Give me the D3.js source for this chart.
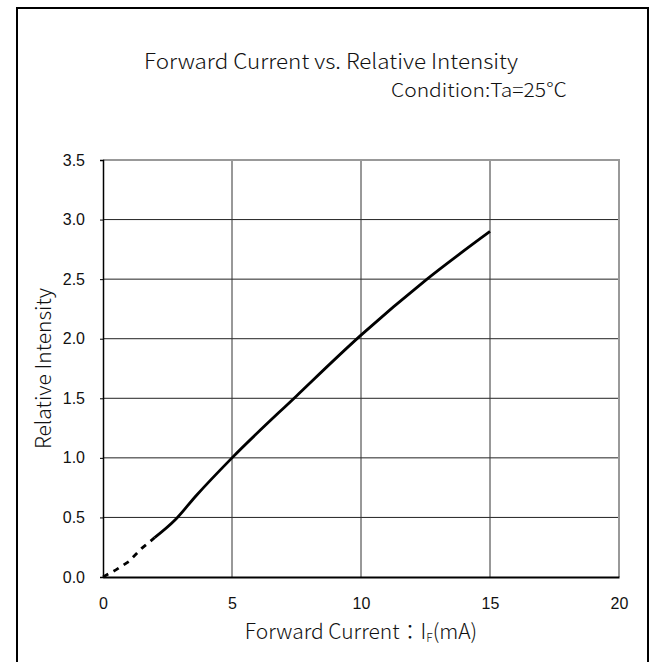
<!DOCTYPE html>
<html>
<head>
<meta charset="utf-8">
<script src="https://cdn.jsdelivr.net/npm/d3@7"></script>
<style>
  html, body { margin: 0; padding: 0; background: #fff; }
  svg { display: block; }
  .ttl { font-family: "Noto Sans CJK JP", "Noto Sans", sans-serif; font-weight: 300; fill: #111; }
  .tick text { font-family: "Liberation Sans Narrow", "Liberation Sans", Arial, sans-serif; font-size: 16px; fill: #111; }
</style>
</head>
<body>
<script>
// Forward current (mA) vs. relative luminous intensity at Ta = 25 °C
const lowCurrent   = [0, 0.5, 1.0, 1.5, 2.0];                 // dashed region
const lowIntensity = [0, 0.06, 0.13, 0.24, 0.33];
const current      = [2.0, 2.8, 3.6, 5.0, 7.5, 10.0, 12.5, 15.0]; // measured region
const intensity    = [0.33, 0.48, 0.68, 1.0, 1.52, 2.03, 2.49, 2.9];
const xTicks = [0, 5, 10, 15, 20];
const yTicks = [0, 0.5, 1.0, 1.5, 2.0, 2.5, 3.0, 3.5];

const W = 652, H = 662;
const svg = d3.select("body").append("svg").attr("width", W).attr("height", H);

// outer frame
svg.append("rect").attr("x", 17).attr("y", 8).attr("width", 631).attr("height", 700)
  .attr("fill", "none").attr("stroke", "#000").attr("stroke-width", 2);

const x = d3.scaleLinear().domain([0, 20]).range([103, 619]);
const y = d3.scaleLinear().domain([0, 3.5]).range([577, 160]);

// grid
const grid = svg.append("g");
grid.selectAll("line.h").data(yTicks.filter(v => v > 0 && v < 3.5)).join("line")
  .attr("x1", x(0)).attr("x2", x(20)).attr("y1", d => y(d)).attr("y2", d => y(d))
  .attr("stroke", "#222").attr("stroke-width", 1);
grid.selectAll("line.v").data(xTicks.filter(v => v > 0 && v < 20)).join("line")
  .attr("y1", y(0)).attr("y2", y(3.5)).attr("x1", d => x(d)).attr("x2", d => x(d))
  .attr("stroke", "#333").attr("stroke-width", 1);
// top and right border of plot
svg.append("path")
  .attr("d", `M${x(0)},${y(3.5)}H${x(20)}V${y(0)}`)
  .attr("fill", "none").attr("stroke", "#999").attr("stroke-width", 2);

// axes
const yAxis = svg.append("g").attr("transform", `translate(${x(0)},0)`)
  .call(d3.axisLeft(y).tickValues(yTicks).tickFormat(d3.format(".1f")).tickSize(3).tickPadding(15));
yAxis.select(".domain").attr("stroke", "#000").attr("stroke-width", 1.5);
yAxis.selectAll(".tick line").attr("stroke", "#000");

const xAxis = svg.append("g").attr("transform", `translate(0,${y(0)})`)
  .call(d3.axisBottom(x).tickValues(xTicks).tickSize(0).tickPadding(21));
xAxis.select(".domain").attr("stroke", "#000").attr("stroke-width", 2);

// curves
const lowLine = d3.line().x(d => x(d[0])).y(d => y(d[1]));
const mainLine = d3.line().x(d => x(d[0])).y(d => y(d[1])).curve(d3.curveMonotoneX);
svg.append("path").datum(d3.zip(lowCurrent, lowIntensity))
  .attr("d", lowLine).attr("fill", "none").attr("stroke", "#000")
  .attr("stroke-width", 2.8).attr("stroke-dasharray", "6,6");
svg.append("path").datum(d3.zip(current, intensity))
  .attr("d", mainLine).attr("fill", "none").attr("stroke", "#000")
  .attr("stroke-width", 2.8).attr("stroke-linejoin", "round");

// titles
svg.append("text").attr("class", "ttl").attr("x", 331).attr("y", 69)
  .attr("text-anchor", "middle").attr("font-size", 21)
  .attr("textLength", 374).attr("lengthAdjust", "spacingAndGlyphs")
  .text("Forward Current vs. Relative Intensity");
svg.append("text").attr("class", "ttl").attr("x", 567).attr("y", 97)
  .attr("text-anchor", "end").attr("font-size", 19)
  .attr("textLength", 176).attr("lengthAdjust", "spacingAndGlyphs")
  .text("Condition:Ta=25℃");

svg.append("text").attr("class", "ttl")
  .attr("transform", `translate(51,${(y(0) + y(3.5)) / 2}) rotate(-90)`)
  .attr("text-anchor", "middle").attr("font-size", 21)
  .text("Relative Intensity");

const xt = svg.append("text").attr("class", "ttl").attr("x", 361).attr("y", 639)
  .attr("text-anchor", "middle").attr("font-size", 21);
xt.append("tspan").text("Forward Current：");
xt.append("tspan").text("I");
xt.append("tspan").attr("font-size", 12).attr("dy", 3).text("F");
xt.append("tspan").attr("dy", -3).text("(mA)");
</script>
</body>
</html>
